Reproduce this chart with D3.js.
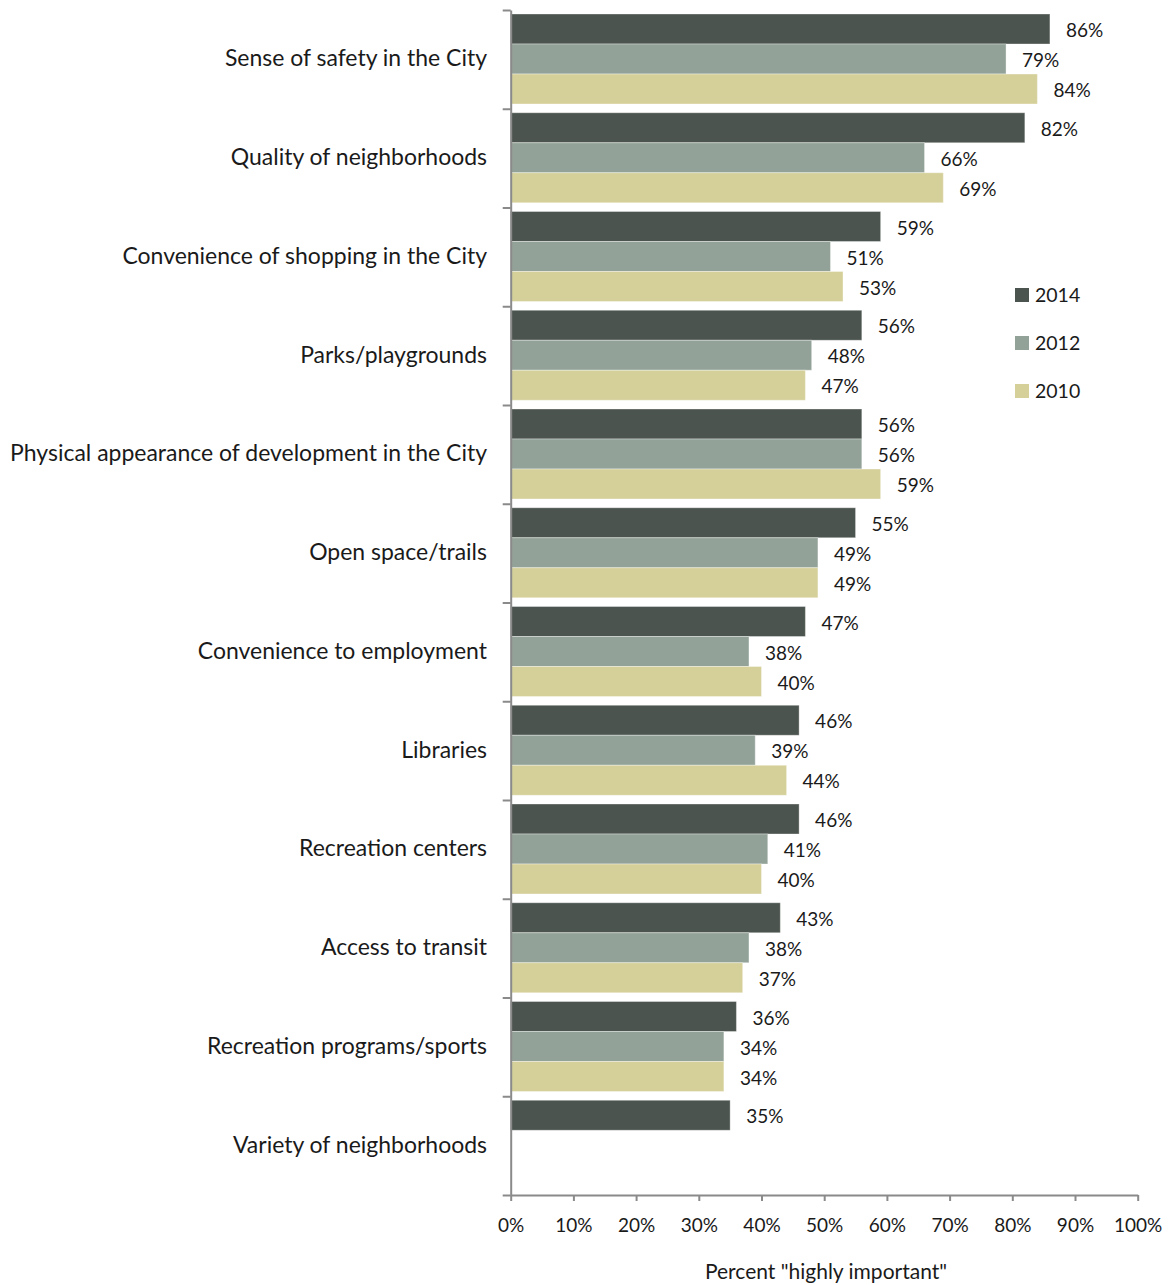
<!DOCTYPE html>
<html>
<head>
<meta charset="utf-8">
<script src="https://cdn.jsdelivr.net/npm/d3@7"></script>
<style>
  body { margin: 0; background: #fff; }
  text { font-family: Lato, "Open Sans", sans-serif; fill: #1a1a1a; }
</style>
</head>
<body>
<div id="chart"></div>
<script>
const w = 1173
const h = 1285
const categories = ['Sense of safety in the City', 'Quality of neighborhoods', 'Convenience of shopping in the City',
    'Parks/playgrounds', 'Physical appearance of development in the City', 'Open space/trails',
    'Convenience to employment', 'Libraries', 'Recreation centers', 'Access to transit',
    'Recreation programs/sports', 'Variety of neighborhoods']
const years = ['2014', '2012', '2010']
const v2014 = [86, 82, 59, 56, 56, 55, 47, 46, 46, 43, 36, 35]
const v2012 = [79, 66, 51, 48, 56, 49, 38, 39, 41, 38, 34, null]
const v2010 = [84, 69, 53, 47, 59, 49, 40, 44, 40, 37, 34, null]
const xTicks = [0, 10, 20, 30, 40, 50, 60, 70, 80, 90, 100]
const colors = {'2014': '#4b544e', '2012': '#93a298', '2010': '#d5d09a'}
const axisColor = '#8a8a8a'

const series = {'2014': v2014, '2012': v2012, '2010': v2010}

const svg = d3.select('#chart')
    .append('svg')
    .attr('width', w)
    .attr('height', h)

const xScale = d3.scaleLinear()
    .domain([0, 100])
    .range([510.7, 1137.7])

const yScale = d3.scaleBand()
    .domain(categories)
    .range([10, 1195])

const inner = d3.scaleBand()
    .domain(years)
    .range([4, 94])

// bars
const catLabels = []
categories.forEach((c, i) => {
    const g = svg.append('g')
        .attr('transform', 'translate(0,' + yScale(c) + ')')
    years.forEach(yr => {
        const val = series[yr][i]
        if (val == null) return
        g.append('rect')
            .attr('x', xScale(0))
            .attr('y', inner(yr))
            .attr('width', xScale(val) - xScale(0))
            .attr('height', inner.bandwidth())
            .attr('fill', colors[yr])
            .attr('stroke', 'rgba(255,255,255,0.35)')
            .attr('stroke-width', 1)
        g.append('text')
            .attr('x', xScale(val) + 16)
            .attr('y', inner(yr) + inner.bandwidth() / 2 + 8)
            .attr('font-size', 19)
            .text(val + '%')
    })
    catLabels.push(svg.append('text')
        .attr('x', 487)
        .attr('y', yScale(c) + yScale.bandwidth() / 2 + 7)
        .attr('text-anchor', 'end')
        .attr('font-size', 20)
        .text(c))
})

// scale the category labels so the longest one spans like the original (~477px)
const longest = d3.max(catLabels, t => t.node().getComputedTextLength())
const catSize = 20 * 477 / longest
catLabels.forEach(t => t.attr('font-size', catSize))

// y axis with ticks at category boundaries
const yEdges = d3.scaleLinear().domain([0, categories.length]).range([10, 1195])
svg.append('g')
    .attr('transform', 'translate(' + xScale(0) + ',0)')
    .call(d3.axisLeft(yEdges).tickValues(d3.range(categories.length + 1)).tickSize(8).tickSizeOuter(0).tickFormat(''))
    .call(g => g.selectAll('line,path').attr('stroke', axisColor).attr('stroke-width', 2))

// x axis
svg.append('g')
    .attr('transform', 'translate(0,1195)')
    .call(d3.axisBottom(xScale).tickValues(xTicks).tickSize(6).tickSizeOuter(0).tickPadding(18).tickFormat(d => d + '%'))
    .call(g => g.selectAll('line,path').attr('stroke', axisColor).attr('stroke-width', 2))
    .call(g => g.selectAll('text').attr('font-size', 19).attr('font-family', 'Lato, sans-serif').attr('fill', '#1a1a1a'))

svg.append('text')
    .attr('x', 826)
    .attr('y', 1279)
    .attr('text-anchor', 'middle')
    .attr('font-size', 21)
    .text('Percent "highly important"')

// legend
const legend = svg.append('g')
    .attr('transform', 'translate(1015,288)')
legend.selectAll('rect')
    .data(years)
    .enter()
    .append('rect')
    .attr('x', 0)
    .attr('y', (d, i) => i * 48)
    .attr('width', 14)
    .attr('height', 14)
    .attr('fill', d => colors[d])
legend.selectAll('text')
    .data(years)
    .enter()
    .append('text')
    .attr('x', 20)
    .attr('y', (d, i) => i * 48 + 14)
    .attr('font-size', 19.5)
    .text(d => d)
</script>
</body>
</html>
